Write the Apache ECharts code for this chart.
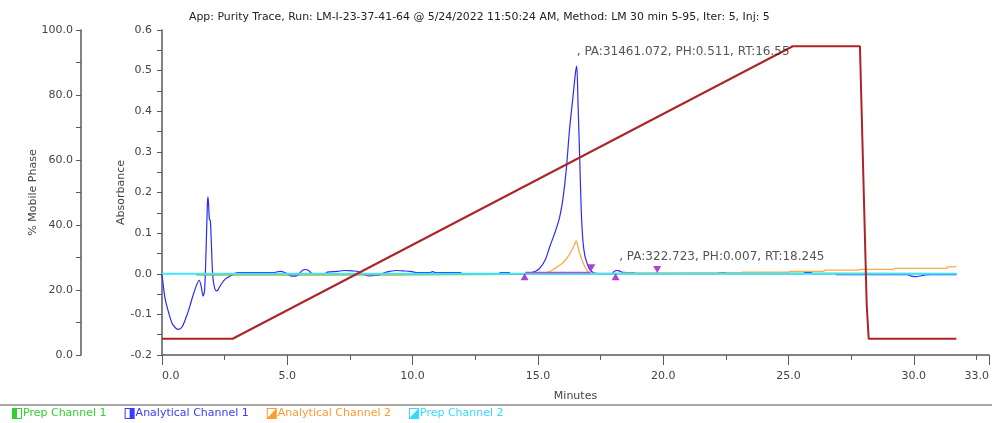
<!DOCTYPE html>
<html>
<head>
<meta charset="utf-8">
<script src="https://cdn.jsdelivr.net/npm/echarts@6/dist/echarts.min.js"></script>
<style>
  html, body { margin: 0; padding: 0; background: #ffffff; }
  #chart { width: 992px; height: 423px; }
</style>
</head>
<body>
<div id="chart"></div>
<script>
// Run header
const runTitle = 'App: Purity Trace, Run: LM-I-23-37-41-64 @ 5/24/2022 11:50:24 AM, Method: LM 30 min 5-95, Iter: 5, Inj: 5';

// Axis ranges (minutes, absorbance, % mobile phase)
const timeRange = [0, 33];
const absRange = [-0.2, 0.6];
const phaseRange = [0, 100];

// Analytical Channel 1 (absorbance)
const blueTime = [0, 0.04, 0.12, 0.24, 0.4, 0.55, 0.66, 0.8, 0.97, 1.1, 1.24, 1.38, 1.48, 1.56, 1.64, 1.7, 1.76, 1.81, 1.835, 1.86, 1.89, 1.93, 1.96, 2.02, 2.08, 2.16, 2.23, 2.32, 2.45, 2.6, 2.8, 3.0,
  4.5, 4.6, 4.75, 4.9, 5.0, 5.1, 5.25, 5.4, 5.5, 5.6, 5.72, 5.85, 5.95, 6.1, 6.5, 6.6, 7.0, 7.3, 7.6, 7.85, 8.0, 8.15, 8.3, 8.5, 8.7, 8.9, 9.1, 9.35, 9.6, 9.9, 10.15, 10.7, 10.8, 10.9, 11.9, 12.0, 13.45, 13.5, 13.85, 13.9,
  14.5, 14.7, 14.9, 15.07, 15.3, 15.47, 15.7, 15.87, 16.0, 16.13, 16.26, 16.4, 16.5, 16.55, 16.6, 16.67, 16.73, 16.8, 16.87, 16.93, 17.03, 17.13, 17.3, 17.6,
  17.95, 18.05, 18.15, 18.245, 18.35, 18.5, 18.6, 18.7, 18.85, 18.9, 22.2, 22.25, 22.5, 22.55, 25.6, 25.65, 25.9, 25.95, 26.85, 26.9, 29.75, 29.9, 30.05, 30.3, 30.45, 30.7, 31.7];
const blueAbs = [0, -0.023, -0.06, -0.09, -0.122, -0.134, -0.137, -0.131, -0.106, -0.082, -0.053, -0.028, -0.016, -0.03, -0.055, -0.04, 0.06, 0.17, 0.189, 0.17, 0.135, 0.13, 0.09, 0.0, -0.03, -0.042, -0.04, -0.03, -0.018, -0.01, -0.003, 0.003,
  0.003, 0.005, 0.006, 0.003, 0.0, -0.004, -0.006, -0.004, 0.002, 0.008, 0.0105, 0.008, 0.002, 0.0, 0.0, 0.004, 0.006, 0.008, 0.007, 0.005, 0.0, -0.004, -0.005, -0.004, -0.002, 0.003, 0.006, 0.008, 0.007, 0.006, 0.003, 0.003, 0.005, 0.003, 0.003, 0.0, 0.0, 0.003, 0.003, 0.0,
  0.0, 0.002, 0.006, 0.013, 0.035, 0.066, 0.105, 0.14, 0.185, 0.255, 0.354, 0.436, 0.495, 0.511, 0.42, 0.28, 0.155, 0.078, 0.045, 0.032, 0.015, 0.006, 0.001, 0.0,
  0.0, 0.006, 0.008, 0.007, 0.004, 0.003, 0.002, 0.003, 0.003, 0.0, 0.0, 0.003, 0.003, 0.0, 0.0, 0.003, 0.003, 0.0, 0.0, -0.002, -0.002, -0.006, -0.007, -0.005, -0.003, -0.002, -0.002];

// Analytical Channel 2 (absorbance)
const orangeTime = [1.37, 9.6, 9.65, 15.2, 15.33, 15.6, 15.86, 16.0, 16.2, 16.42, 16.53, 16.63, 16.79, 16.95, 17.06, 17.2, 18.3, 18.4, 23.1, 23.15, 25.0, 25.05, 26.4, 26.45, 27.8, 27.85, 29.2, 29.25, 31.3, 31.35, 31.6, 31.7];
const orangeAbs = [-0.003, -0.003, 0.0, 0.0, 0.002, 0.01, 0.021, 0.027, 0.042, 0.066, 0.081, 0.058, 0.029, 0.009, 0.003, 0.001, 0.001, 0.002, 0.002, 0.004, 0.004, 0.006, 0.006, 0.009, 0.009, 0.011, 0.011, 0.013, 0.013, 0.017, 0.017, 0.019];

// Prep Channel 1 (absorbance)
const greenTime = [1.37, 9.6, 9.65, 18.3, 18.35, 23.1, 23.15, 31.7];
const greenAbs = [-0.0025, -0.0025, 0.0, 0.0, 0.001, 0.001, 0.0, 0.0];

// Prep Channel 2 (absorbance)
const cyanTime = [0, 31.7];
const cyanAbs = [0, 0];

// Solvent gradient (% B)
const gradTime = [0, 2.82, 25.17, 27.85, 28.12, 28.2, 31.7];
const gradPct = [5, 5, 95, 95, 15.4, 5, 5];

// Integration baseline under the main peak
const baseTime = [14.5, 17.1];
const baseAbs = [0.003, 0.003];

// Peak start / end markers
const markTime = [14.47, 17.13, 18.10, 19.76];
const markAbs = [-0.0076, 0.0145, -0.0076, 0.0106];
const markDir = ['up', 'down', 'up', 'down'];

// Peak annotations
const peakRT = [16.55, 18.245];
const peakPH = [0.511, 0.007];
const peakPA = ['31461.072', '322.723'];

// Legend entries
const legendNames = ['Prep Channel 1', 'Analytical Channel 1', 'Analytical Channel 2', 'Prep Channel 2'];
const legendColors = ['#2fd12f', '#3a3aff', '#ff9a2e', '#33d9ff'];

const zip = (xs, ys) => xs.map((x, i) => [x, ys[i]]);

const FONT = 'DejaVu Sans';
const axisGray = '#5a5a5a';
const labelGray = '#444444';

// Legend glyphs: outlined box with part of it filled
const iconLeftHalf = 'path://M0,0L10,0L10,11L0,11Z M5,1L5,10L9,10L9,1Z';
const iconRightHalf = 'path://M0,0L10,0L10,11L0,11Z M1,1L1,10L5,10L5,1Z';
const iconDiagonal = 'path://M0,0L10,0L10,11L0,11Z M1,1L1,9.5L9,1Z';
const legendIcons = [iconLeftHalf, iconRightHalf, iconDiagonal, iconDiagonal];

const chart = echarts.init(document.getElementById('chart'), null, { renderer: 'canvas' });

const option = {
  animation: false,
  backgroundColor: '#ffffff',
  textStyle: { fontFamily: FONT },
  title: {
    text: runTitle,
    left: 184,
    top: 7,
    textStyle: { fontFamily: FONT, fontSize: 10.9, fontWeight: 'normal', color: '#222222' }
  },
  legend: {
    left: 12,
    top: 408,
    itemWidth: 10,
    itemHeight: 11,
    itemGap: 18,
    padding: 0,
    selectedMode: false,
    itemStyle: { borderWidth: 0 },
    textStyle: { fontFamily: FONT, fontSize: 11, padding: [0, 0, 0, -4] },
    data: legendNames.map((n, i) => ({
      name: n,
      icon: legendIcons[i],
      itemStyle: { color: legendColors[i] },
      textStyle: { color: legendColors[i] }
    }))
  },
  grid: {
    left: 162,
    top: 30,
    width: 827,
    height: 325,
    containLabel: false,
    outerBoundsMode: 'none'
  },
  xAxis: {
    type: 'value',
    min: timeRange[0],
    max: timeRange[1],
    interval: 5,
    name: 'Minutes',
    nameLocation: 'middle',
    nameGap: 36,
    nameMoveOverlap: false,
    nameTextStyle: { fontFamily: FONT, fontSize: 11, color: labelGray },
    axisLine: { show: true, onZero: false, lineStyle: { color: axisGray, width: 1.5 } },
    axisTick: { show: true, length: 10, lineStyle: { color: axisGray } },
    minorTick: { show: true, splitNumber: 2, length: 5, lineStyle: { color: axisGray } },
    splitLine: { show: false },
    axisLabel: {
      margin: 16,
      fontFamily: FONT,
      fontSize: 11,
      color: labelGray,
      showMinLabel: true,
      showMaxLabel: true,
      alignMinLabel: 'left',
      alignMaxLabel: 'right',
      formatter: v => v.toFixed(1)
    }
  },
  yAxis: [
    {
      type: 'value',
      min: absRange[0],
      max: absRange[1],
      interval: 0.1,
      position: 'left',
      name: 'Absorbance',
      nameLocation: 'middle',
      nameGap: 35,
      nameMoveOverlap: false,
      nameTextStyle: { fontFamily: FONT, fontSize: 11, color: labelGray },
      axisLine: { show: true, onZero: false, lineStyle: { color: axisGray, width: 1.5 } },
      axisTick: { show: true, length: 5, lineStyle: { color: axisGray } },
      minorTick: { show: true, splitNumber: 2, length: 5, lineStyle: { color: axisGray } },
      splitLine: { show: false },
      axisLabel: { margin: 10, fontFamily: FONT, fontSize: 11, color: labelGray, formatter: v => v.toFixed(1) }
    },
    {
      type: 'value',
      min: phaseRange[0],
      max: phaseRange[1],
      interval: 20,
      position: 'left',
      offset: 81,
      name: '% Mobile Phase',
      nameLocation: 'middle',
      nameGap: 42,
      nameMoveOverlap: false,
      nameTextStyle: { fontFamily: FONT, fontSize: 11, color: labelGray },
      axisLine: { show: true, onZero: false, lineStyle: { color: axisGray, width: 1.5 } },
      axisTick: { show: true, length: 5, lineStyle: { color: axisGray } },
      minorTick: { show: true, splitNumber: 2, length: 5, lineStyle: { color: axisGray } },
      splitLine: { show: false },
      axisLabel: { margin: 8, fontFamily: FONT, fontSize: 11, color: labelGray, formatter: v => v.toFixed(1) }
    }
  ],
  graphic: [
    {
      type: 'line',
      shape: { x1: 0, y1: 405, x2: 992, y2: 405 },
      style: { stroke: '#8a8a8a', lineWidth: 1.5 },
      silent: true
    }
  ],
  series: [
    {
      name: 'Prep Channel 1',
      type: 'line',
      yAxisIndex: 0,
      showSymbol: false,
      symbol: 'none',
      color: legendColors[0],
      lineStyle: { color: '#44cc33', width: 1.5 },
      data: zip(greenTime, greenAbs),
      z: 2
    },
    {
      name: 'Analytical Channel 1',
      type: 'line',
      yAxisIndex: 0,
      showSymbol: false,
      symbol: 'none',
      smooth: 0.3,
      color: legendColors[1],
      lineStyle: { color: '#2a2aff', width: 1.2 },
      data: zip(blueTime, blueAbs),
      z: 3
    },
    {
      name: 'Analytical Channel 2',
      type: 'line',
      yAxisIndex: 0,
      showSymbol: false,
      symbol: 'none',
      smooth: 0.3,
      color: legendColors[2],
      lineStyle: { color: '#ffa033', width: 1.3, opacity: 0.9 },
      data: zip(orangeTime, orangeAbs),
      z: 4
    },
    {
      name: 'Prep Channel 2',
      type: 'line',
      yAxisIndex: 0,
      showSymbol: false,
      symbol: 'none',
      color: legendColors[3],
      lineStyle: { color: '#3ce6ff', width: 2 },
      data: zip(cyanTime, cyanAbs),
      z: 5
    },
    {
      name: 'Integration Baseline',
      type: 'line',
      yAxisIndex: 0,
      showSymbol: false,
      symbol: 'none',
      lineStyle: { color: '#b54ad6', width: 1.5 },
      data: zip(baseTime, baseAbs),
      z: 5
    },
    {
      name: 'Gradient',
      type: 'line',
      yAxisIndex: 1,
      showSymbol: false,
      symbol: 'none',
      lineStyle: { color: '#ac2526', width: 2 },
      data: zip(gradTime, gradPct),
      z: 6
    },
    {
      name: 'Peak Markers',
      type: 'scatter',
      yAxisIndex: 0,
      symbol: 'triangle',
      symbolSize: [8, 7],
      itemStyle: { color: '#9b12c9' },
      data: markTime.map((t, i) => ({
        value: [t, markAbs[i]],
        symbolRotate: markDir[i] === 'down' ? 180 : 0
      })),
      z: 7
    },
    {
      name: 'Peak Labels',
      type: 'scatter',
      yAxisIndex: 0,
      symbolSize: 0,
      silent: true,
      data: peakRT.map((rt, i) => ({ value: [rt, peakPH[i]], pa: peakPA[i] })),
      label: {
        show: true,
        position: 'right',
        distance: 0,
        offset: [0, -14],
        fontFamily: FONT,
        fontSize: 12,
        color: '#2a2a2a',
        formatter: p => ', PA:' + p.data.pa + ', PH:' + p.value[1] + ', RT:' + p.value[0]
      },
      z: 8
    }
  ]
};

chart.setOption(option);
</script>
</body>
</html>
